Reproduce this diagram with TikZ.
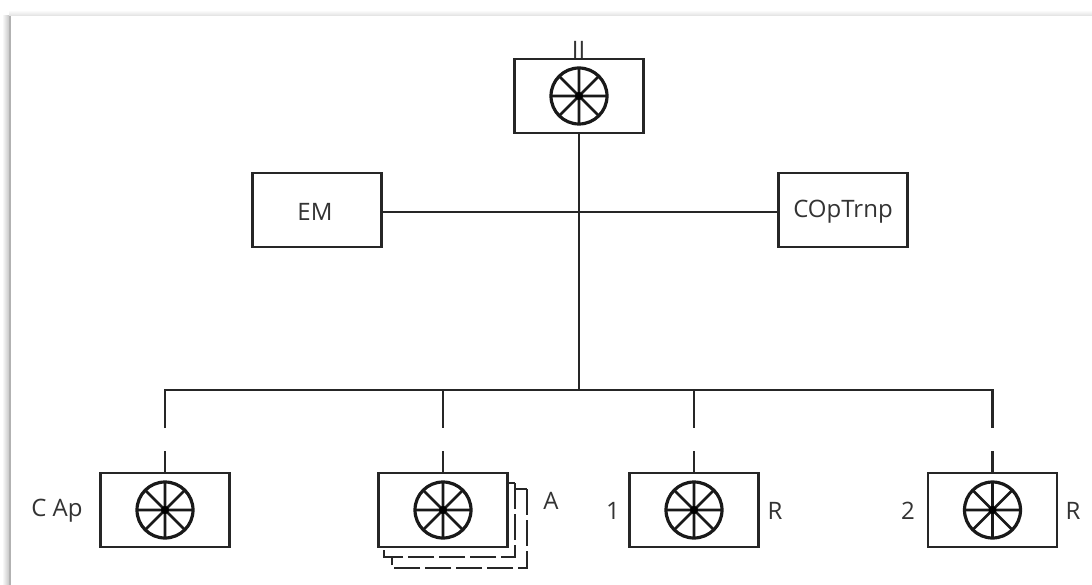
\documentclass[tikz,border=0pt]{standalone}
\usepackage{fontspec}
\setmainfont{Open Sans}
\usetikzlibrary{calc}
\tikzset{
  x=1pt,y=-1pt,
  line/.style={line width=2.8pt,draw=black!85},
  unitbox/.style={draw=black!85,line width=2.8pt,fill=white,minimum width=129pt,minimum height=74pt,inner sep=0pt},
  backsheet/.style={draw=black!85,line width=2.6pt,dash pattern=on 26pt off 5pt},
  lab/.style={inner sep=0pt,text=black!80,font=\fontsize{24}{27}\selectfont},
  pics/wheel/.style={code={
    \draw[black!90,line width=3.2pt] (0,0) circle[radius=28pt];
    \draw[black!90,line width=2.6pt] (-28,0) -- (28,0) (0,-28) -- (0,28) (-20,-20) -- (20,20) (-20,20) -- (20,-20);
    \fill[black] (0,0) circle[radius=4pt];
  }}
}
\begin{document}
\begin{tikzpicture}
\useasboundingbox (0,0) rectangle (1092,585);
\fill[white] (0,0) rectangle (1092,585);
% page edge and its shadow
\shade[left color=white,right color=black!22] (2,16) rectangle (9,585);
\fill[black!30] (9,16) rectangle (11,585);
\shade[top color=white,bottom color=black!12] (9,10) rectangle (1092,16);
% nodes
\node[unitbox] (top) at (579,96) {};
\node[unitbox] (em) at (317,210) {};
\node[lab] (emt) at (315,212) {EM};
\node[unitbox] (cop) at (843,210) {};
\node[lab] (copt) at (843,212) {COpTrnp};
\node[lab] (ii) at (578.5,50) {II};
% stacked back sheets
\draw[backsheet] (527,489) -- (515,489) (527,489) -- (527,568) -- (392,568) -- (392,557);
\draw[backsheet] (515,483) -- (507,483) (515,483) -- (515,557) -- (384,557) -- (384,547);
\node[unitbox] (cap) at (165,510) {};
\node[unitbox] (a) at (443,510) {};
\node[unitbox] (r1) at (694,510) {};
\node[unitbox] (r2) at (992.5,510) {};
\foreach \n in {top,cap,a,r1,r2}{\pic at (\n.center) {wheel};}
\node[lab] (capt) at (57,511) {C Ap};
\node[lab] (at) at (551,501) {A};
\node[lab] (one) at (613,511) {1};
\node[lab] (r1t) at (775,511) {R};
\node[lab] (two) at (908,511) {2};
\node[lab] (r2t) at (1073,511) {R};
% connectors
\coordinate (junction) at (579,212);
\coordinate (bus) at (579,390);
\draw[line] (top.south) -- (bus);
\draw[line] (em.east |- junction) -- (junction) -- (cop.west |- junction);
\coordinate (busl) at (cap.north |- bus);
\coordinate (busr) at (r2.north |- bus);
\draw[line] (busl) ++(0,38) -- (busl) -- (busr) -- ++(0,38);
\coordinate (bus2) at (a.north |- bus);
\coordinate (bus3) at (r1.north |- bus);
\draw[line] (bus2) -- ++(0,38);
\draw[line] (bus3) -- ++(0,38);
\foreach \n in {cap,a,r1,r2}{\draw[line] (\n.north) -- ++(0,-21);}
\end{tikzpicture}
\end{document}
